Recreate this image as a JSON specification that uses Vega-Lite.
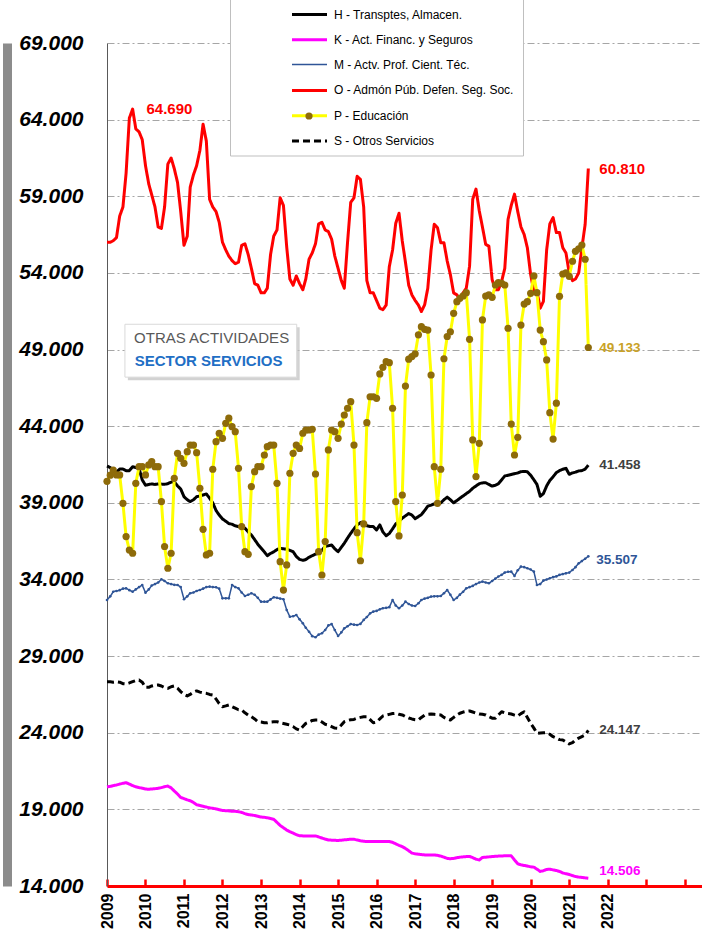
{
"$schema": "https://vega.github.io/schema/vega-lite/v6.json",
"width": 595, "height": 843,
"autosize": {"type": "none"},
"padding": {"left": 107, "top": 43, "right": 0, "bottom": 56},
"background": "white",
"config": {"view": {"stroke": null}, "font": "Liberation Sans"},
"datasets": {"main": [
{"d":"2009-01","H":41400,"K":20470,"M":32660,"O":56000,"P":40400,"S":27330},
{"d":"2009-02","H":41300,"K":20500,"M":32900,"O":56000,"P":40800,"S":27330},
{"d":"2009-03","H":41100,"K":20550,"M":33200,"O":56100,"P":41140,"S":27300},
{"d":"2009-04","H":41000,"K":20590,"M":33250,"O":56300,"P":40820,"S":27330},
{"d":"2009-05","H":41200,"K":20650,"M":33300,"O":57700,"P":40820,"S":27300},
{"d":"2009-06","H":41200,"K":20700,"M":33400,"O":58300,"P":38970,"S":27200},
{"d":"2009-07","H":41100,"K":20740,"M":33420,"O":60500,"P":36800,"S":27180},
{"d":"2009-08","H":41100,"K":20650,"M":33300,"O":64100,"P":35920,"S":27250},
{"d":"2009-09","H":41350,"K":20550,"M":33200,"O":64690,"P":35710,"S":27330},
{"d":"2009-10","H":41300,"K":20470,"M":33350,"O":63400,"P":40270,"S":27400},
{"d":"2009-11","H":41250,"K":20420,"M":33500,"O":63200,"P":41360,"S":27440},
{"d":"2009-12","H":40500,"K":20380,"M":33640,"O":62700,"P":41360,"S":27300},
{"d":"2010-01","H":40150,"K":20330,"M":33140,"O":61000,"P":40820,"S":26960},
{"d":"2010-02","H":40200,"K":20310,"M":33350,"O":59800,"P":41470,"S":26960},
{"d":"2010-03","H":40230,"K":20330,"M":33600,"O":59100,"P":41690,"S":27050},
{"d":"2010-04","H":40200,"K":20350,"M":33700,"O":58300,"P":41360,"S":27100},
{"d":"2010-05","H":40230,"K":20370,"M":33800,"O":57000,"P":41360,"S":27110},
{"d":"2010-06","H":40220,"K":20420,"M":34010,"O":56900,"P":39080,"S":27050},
{"d":"2010-07","H":40210,"K":20480,"M":33900,"O":58300,"P":36150,"S":26950},
{"d":"2010-08","H":40250,"K":20520,"M":33750,"O":61100,"P":34730,"S":26900},
{"d":"2010-09","H":40350,"K":20400,"M":33700,"O":61500,"P":35710,"S":27000},
{"d":"2010-10","H":40380,"K":20200,"M":33650,"O":60800,"P":40600,"S":27050},
{"d":"2010-11","H":40100,"K":20000,"M":33640,"O":59900,"P":42230,"S":26900},
{"d":"2010-12","H":39900,"K":19780,"M":33500,"O":58000,"P":41900,"S":26680},
{"d":"2011-01","H":39400,"K":19700,"M":32710,"O":55800,"P":41580,"S":26500},
{"d":"2011-02","H":39200,"K":19620,"M":32900,"O":56400,"P":42340,"S":26400},
{"d":"2011-03","H":39080,"K":19560,"M":33100,"O":59600,"P":42770,"S":26500},
{"d":"2011-04","H":39200,"K":19450,"M":33150,"O":60400,"P":42770,"S":26650},
{"d":"2011-05","H":39400,"K":19300,"M":33250,"O":61000,"P":42270,"S":26730},
{"d":"2011-06","H":39450,"K":19250,"M":33310,"O":62000,"P":39950,"S":26650},
{"d":"2011-07","H":39510,"K":19200,"M":33400,"O":63700,"P":37270,"S":26600},
{"d":"2011-08","H":39580,"K":19150,"M":33500,"O":62600,"P":35600,"S":26570},
{"d":"2011-09","H":39300,"K":19100,"M":33530,"O":58800,"P":35710,"S":26500},
{"d":"2011-10","H":39000,"K":19070,"M":33500,"O":58300,"P":41190,"S":26460},
{"d":"2011-11","H":38500,"K":19030,"M":33490,"O":58000,"P":42990,"S":26200},
{"d":"2011-12","H":38200,"K":18980,"M":33400,"O":57300,"P":43540,"S":25900},
{"d":"2012-01","H":37950,"K":18930,"M":32770,"O":56000,"P":43210,"S":25700},
{"d":"2012-02","H":37800,"K":18910,"M":32770,"O":55500,"P":44190,"S":25750},
{"d":"2012-03","H":37650,"K":18900,"M":32770,"O":55100,"P":44520,"S":25810},
{"d":"2012-04","H":37600,"K":18880,"M":33640,"O":54800,"P":43970,"S":25700},
{"d":"2012-05","H":37500,"K":18870,"M":33500,"O":54600,"P":43640,"S":25600},
{"d":"2012-06","H":37450,"K":18850,"M":33420,"O":54700,"P":41250,"S":25500},
{"d":"2012-07","H":37400,"K":18800,"M":33150,"O":55800,"P":37450,"S":25480},
{"d":"2012-08","H":37340,"K":18720,"M":32920,"O":55900,"P":35810,"S":25300},
{"d":"2012-09","H":37100,"K":18660,"M":33000,"O":55200,"P":35640,"S":25150},
{"d":"2012-10","H":36900,"K":18630,"M":33100,"O":54300,"P":40060,"S":25040},
{"d":"2012-11","H":36600,"K":18600,"M":33000,"O":53300,"P":41030,"S":24900},
{"d":"2012-12","H":36300,"K":18550,"M":32800,"O":53200,"P":41360,"S":24720},
{"d":"2013-01","H":36050,"K":18500,"M":32550,"O":52700,"P":41360,"S":24700},
{"d":"2013-02","H":35800,"K":18480,"M":32550,"O":52700,"P":42120,"S":24650},
{"d":"2013-03","H":35550,"K":18450,"M":32550,"O":53000,"P":42660,"S":24650},
{"d":"2013-04","H":35700,"K":18400,"M":32700,"O":55200,"P":42770,"S":24700},
{"d":"2013-05","H":35800,"K":18350,"M":32840,"O":56400,"P":42770,"S":24720},
{"d":"2013-06","H":35950,"K":18150,"M":32800,"O":56800,"P":40270,"S":24720},
{"d":"2013-07","H":36030,"K":17950,"M":32750,"O":58900,"P":35160,"S":24650},
{"d":"2013-08","H":36000,"K":17800,"M":32710,"O":58400,"P":33310,"S":24600},
{"d":"2013-09","H":35970,"K":17650,"M":32010,"O":55700,"P":34950,"S":24550},
{"d":"2013-10","H":35900,"K":17540,"M":31570,"O":53600,"P":40930,"S":24500},
{"d":"2013-11","H":35810,"K":17450,"M":31600,"O":53200,"P":42230,"S":24400},
{"d":"2013-12","H":35500,"K":17350,"M":31680,"O":53800,"P":42770,"S":24250},
{"d":"2014-01","H":35310,"K":17280,"M":31400,"O":53300,"P":42550,"S":24170},
{"d":"2014-02","H":35250,"K":17270,"M":31140,"O":52900,"P":43540,"S":24400},
{"d":"2014-03","H":35300,"K":17270,"M":30850,"O":53600,"P":43750,"S":24610},
{"d":"2014-04","H":35450,"K":17270,"M":30590,"O":54900,"P":43750,"S":24700},
{"d":"2014-05","H":35550,"K":17270,"M":30300,"O":55300,"P":43800,"S":24800},
{"d":"2014-06","H":35650,"K":17270,"M":30230,"O":55900,"P":40880,"S":24830},
{"d":"2014-07","H":35710,"K":17200,"M":30400,"O":57200,"P":35810,"S":24830},
{"d":"2014-08","H":35900,"K":17130,"M":30490,"O":57300,"P":34290,"S":24700},
{"d":"2014-09","H":36150,"K":17060,"M":30700,"O":56800,"P":36470,"S":24550},
{"d":"2014-10","H":36200,"K":17000,"M":31000,"O":56700,"P":42450,"S":24500},
{"d":"2014-11","H":36250,"K":16990,"M":31090,"O":56200,"P":43750,"S":24400},
{"d":"2014-12","H":36000,"K":16980,"M":30700,"O":55100,"P":43640,"S":24300},
{"d":"2015-01","H":35810,"K":16970,"M":30310,"O":54300,"P":43210,"S":24280},
{"d":"2015-02","H":36100,"K":16990,"M":30550,"O":53500,"P":44140,"S":24500},
{"d":"2015-03","H":36360,"K":17010,"M":30810,"O":53000,"P":44730,"S":24720},
{"d":"2015-04","H":36700,"K":17030,"M":30950,"O":56000,"P":45170,"S":24800},
{"d":"2015-05","H":37010,"K":17050,"M":31090,"O":58600,"P":45600,"S":24850},
{"d":"2015-06","H":37300,"K":17050,"M":31050,"O":58900,"P":42770,"S":24870},
{"d":"2015-07","H":37560,"K":17000,"M":31030,"O":60300,"P":37050,"S":24950},
{"d":"2015-08","H":37700,"K":16950,"M":31100,"O":60100,"P":35220,"S":25000},
{"d":"2015-09","H":37770,"K":16920,"M":31360,"O":58300,"P":37620,"S":25040},
{"d":"2015-10","H":37500,"K":16900,"M":31550,"O":53500,"P":44230,"S":25040},
{"d":"2015-11","H":37450,"K":16900,"M":31790,"O":52700,"P":45920,"S":24850},
{"d":"2015-12","H":37450,"K":16900,"M":31900,"O":52700,"P":45920,"S":24650},
{"d":"2016-01","H":37230,"K":16900,"M":31950,"O":52200,"P":45820,"S":24700},
{"d":"2016-02","H":37560,"K":16900,"M":32050,"O":51700,"P":47410,"S":24900},
{"d":"2016-03","H":37100,"K":16900,"M":32120,"O":51600,"P":47840,"S":25090},
{"d":"2016-04","H":36850,"K":16900,"M":32150,"O":51900,"P":48210,"S":25150},
{"d":"2016-05","H":37000,"K":16900,"M":32190,"O":54410,"P":48140,"S":25200},
{"d":"2016-06","H":37300,"K":16850,"M":32660,"O":55500,"P":45170,"S":25250},
{"d":"2016-07","H":37620,"K":16750,"M":32300,"O":57240,"P":39080,"S":25270},
{"d":"2016-08","H":37800,"K":16650,"M":32120,"O":57890,"P":36840,"S":25200},
{"d":"2016-09","H":38000,"K":16570,"M":32300,"O":56080,"P":39510,"S":25160},
{"d":"2016-10","H":38150,"K":16450,"M":32550,"O":54700,"P":46620,"S":25050},
{"d":"2016-11","H":38300,"K":16300,"M":32400,"O":53200,"P":48370,"S":24960},
{"d":"2016-12","H":38200,"K":16150,"M":32300,"O":52570,"P":48540,"S":24900},
{"d":"2017-01","H":37970,"K":16100,"M":32270,"O":52200,"P":48720,"S":24850},
{"d":"2017-02","H":38100,"K":16070,"M":32450,"O":51900,"P":49960,"S":24830},
{"d":"2017-03","H":38230,"K":16050,"M":32660,"O":51480,"P":50490,"S":25000},
{"d":"2017-04","H":38500,"K":16030,"M":32750,"O":51920,"P":50320,"S":25150},
{"d":"2017-05","H":38780,"K":16030,"M":32800,"O":53010,"P":50270,"S":25200},
{"d":"2017-06","H":38850,"K":16030,"M":32880,"O":55500,"P":47340,"S":25220},
{"d":"2017-07","H":38930,"K":16030,"M":32900,"O":57170,"P":41360,"S":25200},
{"d":"2017-08","H":38950,"K":16000,"M":32900,"O":56950,"P":38970,"S":25180},
{"d":"2017-09","H":39000,"K":15950,"M":32920,"O":55970,"P":41190,"S":25160},
{"d":"2017-10","H":39200,"K":15880,"M":33100,"O":55970,"P":48400,"S":25000},
{"d":"2017-11","H":39370,"K":15800,"M":33310,"O":54770,"P":49850,"S":24900},
{"d":"2017-12","H":39200,"K":15780,"M":33000,"O":53890,"P":50160,"S":24830},
{"d":"2018-01","H":39000,"K":15800,"M":32660,"O":52690,"P":51360,"S":25000},
{"d":"2018-02","H":39150,"K":15850,"M":32800,"O":52570,"P":52120,"S":25150},
{"d":"2018-03","H":39300,"K":15880,"M":33010,"O":52250,"P":52340,"S":25270},
{"d":"2018-04","H":39450,"K":15900,"M":33200,"O":52700,"P":52500,"S":25350},
{"d":"2018-05","H":39600,"K":15920,"M":33420,"O":53010,"P":52710,"S":25400},
{"d":"2018-06","H":39750,"K":15930,"M":33500,"O":54440,"P":49670,"S":25420},
{"d":"2018-07","H":39950,"K":15850,"M":33580,"O":58810,"P":43100,"S":25350},
{"d":"2018-08","H":40100,"K":15750,"M":33700,"O":59470,"P":40710,"S":25280},
{"d":"2018-09","H":40250,"K":15700,"M":33800,"O":58050,"P":42880,"S":25220},
{"d":"2018-10","H":40300,"K":15860,"M":33860,"O":57000,"P":50930,"S":25200},
{"d":"2018-11","H":40310,"K":15880,"M":33800,"O":55860,"P":52490,"S":25160},
{"d":"2018-12","H":40200,"K":15900,"M":33750,"O":55750,"P":52560,"S":25050},
{"d":"2019-01","H":40090,"K":15920,"M":33900,"O":53560,"P":52410,"S":24950},
{"d":"2019-02","H":40150,"K":15940,"M":34050,"O":52900,"P":53210,"S":24940},
{"d":"2019-03","H":40240,"K":15950,"M":34190,"O":52900,"P":53360,"S":25150},
{"d":"2019-04","H":40500,"K":15960,"M":34300,"O":53450,"P":53320,"S":25370},
{"d":"2019-05","H":40750,"K":15970,"M":34450,"O":54300,"P":53210,"S":25300},
{"d":"2019-06","H":40800,"K":15970,"M":34500,"O":57500,"P":50390,"S":25250},
{"d":"2019-07","H":40850,"K":15970,"M":34510,"O":58400,"P":44140,"S":25220},
{"d":"2019-08","H":40900,"K":15700,"M":34230,"O":59140,"P":42120,"S":25150},
{"d":"2019-09","H":40950,"K":15450,"M":34600,"O":58000,"P":43270,"S":25090},
{"d":"2019-10","H":41030,"K":15380,"M":34840,"O":57000,"P":50600,"S":25250},
{"d":"2019-11","H":41050,"K":15340,"M":34800,"O":56500,"P":51970,"S":25370},
{"d":"2019-12","H":41030,"K":15300,"M":34730,"O":55640,"P":52120,"S":25000},
{"d":"2020-01","H":40800,"K":15250,"M":34650,"O":53900,"P":52670,"S":24610},
{"d":"2020-02","H":40500,"K":15230,"M":34510,"O":52790,"P":53800,"S":24300},
{"d":"2020-03","H":40200,"K":15100,"M":33640,"O":52790,"P":52710,"S":23960},
{"d":"2020-04","H":39430,"K":14950,"M":33700,"O":51700,"P":50270,"S":23980},
{"d":"2020-05","H":39600,"K":15000,"M":33920,"O":52140,"P":49510,"S":24000},
{"d":"2020-06","H":40100,"K":15080,"M":34000,"O":55500,"P":48320,"S":24000},
{"d":"2020-07","H":40460,"K":15100,"M":34080,"O":57200,"P":44880,"S":23900},
{"d":"2020-08","H":40700,"K":15050,"M":34150,"O":57610,"P":43160,"S":23740},
{"d":"2020-09","H":40970,"K":15010,"M":34200,"O":56630,"P":45500,"S":23650},
{"d":"2020-10","H":41100,"K":14950,"M":34300,"O":56630,"P":52470,"S":23550},
{"d":"2020-11","H":41190,"K":14850,"M":34350,"O":55640,"P":53930,"S":23530},
{"d":"2020-12","H":41250,"K":14800,"M":34400,"O":55300,"P":54000,"S":23400},
{"d":"2021-01","H":40860,"K":14750,"M":34450,"O":54000,"P":53780,"S":23270},
{"d":"2021-02","H":40950,"K":14680,"M":34620,"O":53500,"P":54760,"S":23350},
{"d":"2021-03","H":41000,"K":14620,"M":34800,"O":53600,"P":55410,"S":23530},
{"d":"2021-04","H":41080,"K":14580,"M":35050,"O":54000,"P":55570,"S":23650},
{"d":"2021-05","H":41100,"K":14560,"M":35200,"O":55640,"P":55820,"S":23750},
{"d":"2021-06","H":41200,"K":14530,"M":35350,"O":57170,"P":54890,"S":23850},
{"d":"2021-07","H":41458,"K":14506,"M":35507,"O":60810,"P":49133,"S":24147}
]},
"encoding": {
  "x": {"field": "d", "type": "temporal", "title": null,
    "scale": {"type": "utc", "domain": [{"year": 2009, "month": 1, "date": 1, "utc": true}, {"year": 2024, "month": 6, "date": 13, "utc": true}]},
    "axis": {"values": [{"year":2009,"utc":true},{"year":2010,"utc":true},{"year":2011,"utc":true},{"year":2012,"utc":true},{"year":2013,"utc":true},{"year":2014,"utc":true},{"year":2015,"utc":true},{"year":2016,"utc":true},{"year":2017,"utc":true},{"year":2018,"utc":true},{"year":2019,"utc":true},{"year":2020,"utc":true},{"year":2021,"utc":true},{"year":2022,"utc":true},{"year":2023,"utc":true},{"year":2024,"utc":true}],
      "labelExpr": "utcyear(datum.value) > 2022 ? '' : utcFormat(datum.value, '%Y')",
      "labelAngle": 270, "labelAlign": "right", "labelBaseline": "middle",
      "labelFont": "Liberation Sans", "labelFontSize": 16, "labelFontWeight": "bold", "labelColor": "#000000",
      "labelPadding": 14, "labelFlush": false, "labelOverlap": false,
      "domainColor": "#FF0000", "domainWidth": 3, "tickColor": "#FF0000", "tickWidth": 2.5, "tickSize": -7, "grid": false}},
  "y": {"field": "v", "type": "quantitative", "title": null,
    "scale": {"domain": [14000, 69000], "nice": false, "zero": false}, "axis": null}
},
"resolve": {"axis": {"y": "independent"}},
"layer": [
  {"data": {"values": [{"d": "2009-07-18", "d2": "2014-01-02", "v": 47000, "v2": 50450}]},
   "mark": {"type": "rect", "fill": "#BFBFBF", "opacity": 0.7},
   "encoding": {"x2": {"field": "d2"}, "y2": {"field": "v2"},
     "y": {"field": "v", "type": "quantitative", "title": null,
       "scale": {"domain": [14000, 69000], "nice": false, "zero": false},
       "axis": {"orient": "left", "offset": 100, "domainColor": "#8C8C8C", "domainWidth": 9, "labels": false, "ticks": false, "grid": false}}}},
  {"data": {"values": [{"d": "2009-06-20", "d2": "2013-12-05", "v": 47200, "v2": 50650}]},
   "mark": {"type": "rect", "fill": "#FFFFFF", "stroke": "#D9D9D9", "strokeWidth": 1},
   "encoding": {"x2": {"field": "d2"}, "y2": {"field": "v2"}}},
  {"data": {"values": [{"d": "2011-09-20", "v": 49755, "t": "OTRAS ACTIVIDADES"}]},
   "mark": {"type": "text", "align": "center", "baseline": "middle", "font": "Liberation Sans", "fontSize": 15, "fill": "#595959"},
   "encoding": {"text": {"field": "t"}}},
  {"data": {"values": [{"d": "2011-08-22", "v": 48254, "t": "SECTOR SERVICIOS"}]},
   "mark": {"type": "text", "align": "center", "baseline": "middle", "font": "Liberation Sans", "fontSize": 15, "fontWeight": "bold", "fill": "#1F6FC5"},
   "encoding": {"text": {"field": "t"}}},
  {"data": {"name": "main"},
   "transform": [{"fold": ["H", "K", "M", "O", "P", "S"], "as": ["s", "v"]}],
   "mark": {"type": "line", "strokeJoin": "round", "strokeCap": "butt"},
   "encoding": {
     "y": {"field": "v", "type": "quantitative", "title": null,
       "scale": {"domain": [14000, 69000], "nice": false, "zero": false},
       "axis": {"orient": "left", "values": [14000,19000,24000,29000,34000,39000,44000,49000,54000,59000,64000,69000],
         "labelExpr": "format(datum.value / 1000, '.3f')",
         "labelFont": "Liberation Sans", "labelFontSize": 21, "labelFontWeight": "bold", "labelFontStyle": "italic", "labelColor": "#000000",
         "labelPadding": 24, "labelFlush": false, "ticks": false,
         "domainColor": "#595959", "domainWidth": 1,
         "grid": true, "gridColor": "#A6A6A6", "gridDash": [7, 3, 2, 3], "gridWidth": 1}},
     "color": {"field": "s", "type": "nominal",
       "scale": {"range": ["#000000", "#FF00FF", "#2F5597", "#FF0000", "#FFFF00", "#000000"]},
       "legend": {"orient": "none", "legendX": 123, "legendY": -55.5, "title": " ", "titleOrient": "left", "titleFontSize": 1, "titlePadding": 52.5,
         "padding": 8, "fillColor": "#FFFFFF", "strokeColor": "#BFBFBF", "symbolType": "stroke", "symbolSize": 1225,
         "labelFont": "Liberation Sans", "labelFontSize": 12, "labelColor": "#000000", "labelOffset": 5.5, "rowPadding": 0.3, "labelLimit": 400,
         "labelExpr": "datum.label == 'H' ? 'H - Transptes, Almacen.' : datum.label == 'K' ? 'K - Act. Financ. y Seguros' : datum.label == 'M' ? 'M - Actv. Prof. Cient. Téc.' : datum.label == 'O' ? 'O - Admón Púb. Defen. Seg. Soc.' : datum.label == 'P' ? 'P - Educación' : 'S - Otros Servicios'"}},
     "strokeDash": {"field": "s", "type": "nominal", "scale": {"range": [[1, 0], [1, 0], [1, 0], [1, 0], [1, 0], [7, 4]]}},
     "strokeWidth": {"field": "s", "type": "nominal", "scale": {"type": "ordinal", "range": [3, 3, 1.5, 3, 3, 3]}}
   }},
  {"data": {"name": "main"},
   "transform": [{"fold": ["M"], "as": ["s", "v"]}],
   "mark": {"type": "point", "filled": true, "opacity": 1, "size": 7, "fill": "#2F5597"}},
  {"data": {"name": "main"},
   "transform": [{"fold": ["P"], "as": ["s", "v"]}],
   "mark": {"type": "point", "filled": true, "opacity": 1, "size": 52},
   "encoding": {
     "fill": {"field": "s", "type": "nominal",
       "scale": {"domain": ["H", "K", "M", "O", "P", "S"], "range": ["rgba(0,0,0,0)", "rgba(0,0,0,0)", "rgba(0,0,0,0)", "rgba(0,0,0,0)", "#8E6B0A", "rgba(0,0,0,0)"]},
       "legend": {"orient": "none", "legendX": 123, "legendY": -41.8, "title": " ", "titleOrient": "left", "titleFontSize": 1, "titlePadding": 65,
         "padding": 8, "symbolType": "circle", "symbolSize": 52, "symbolStrokeWidth": 0,
         "labelFont": "Liberation Sans", "labelFontSize": 12, "labelOpacity": 0, "labelOffset": 4, "rowPadding": 13.2, "labelLimit": 400,
         "labelExpr": "' '"}}
   }},
  {"data": {"values": [{"d": "2009-09-28", "v": 64690, "t": "64.690"}, {"d": "2021-07-01", "v": 60810, "t": "60.810"}]},
   "mark": {"type": "text", "align": "left", "baseline": "middle", "dx": 11, "font": "Liberation Sans", "fontSize": 15, "fontWeight": "bold", "fill": "#FF0000"},
   "encoding": {"text": {"field": "t"}}},
  {"data": {"values": [{"d": "2021-07-01", "v": 49133, "t": "49.133"}]},
   "mark": {"type": "text", "align": "left", "baseline": "middle", "dx": 11, "font": "Liberation Sans", "fontSize": 13.5, "fontWeight": "bold", "fill": "#C9A227"},
   "encoding": {"text": {"field": "t"}}},
  {"data": {"values": [{"d": "2021-07-01", "v": 41458, "t": "41.458"}, {"d": "2021-07-01", "v": 24147, "t": "24.147"}]},
   "mark": {"type": "text", "align": "left", "baseline": "middle", "dx": 11, "font": "Liberation Sans", "fontSize": 13.5, "fontWeight": "bold", "fill": "#404040"},
   "encoding": {"text": {"field": "t"}}},
  {"data": {"values": [{"d": "2021-07-01", "v": 35300, "t": "35.507"}]},
   "mark": {"type": "text", "align": "left", "baseline": "middle", "dx": 8, "font": "Liberation Sans", "fontSize": 13.5, "fontWeight": "bold", "fill": "#2F5597"},
   "encoding": {"text": {"field": "t"}}},
  {"data": {"values": [{"d": "2021-07-01", "v": 14950, "t": "14.506"}]},
   "mark": {"type": "text", "align": "left", "baseline": "middle", "dx": 11, "font": "Liberation Sans", "fontSize": 13.5, "fontWeight": "bold", "fill": "#FF00FF"},
   "encoding": {"text": {"field": "t"}}}
]
}
